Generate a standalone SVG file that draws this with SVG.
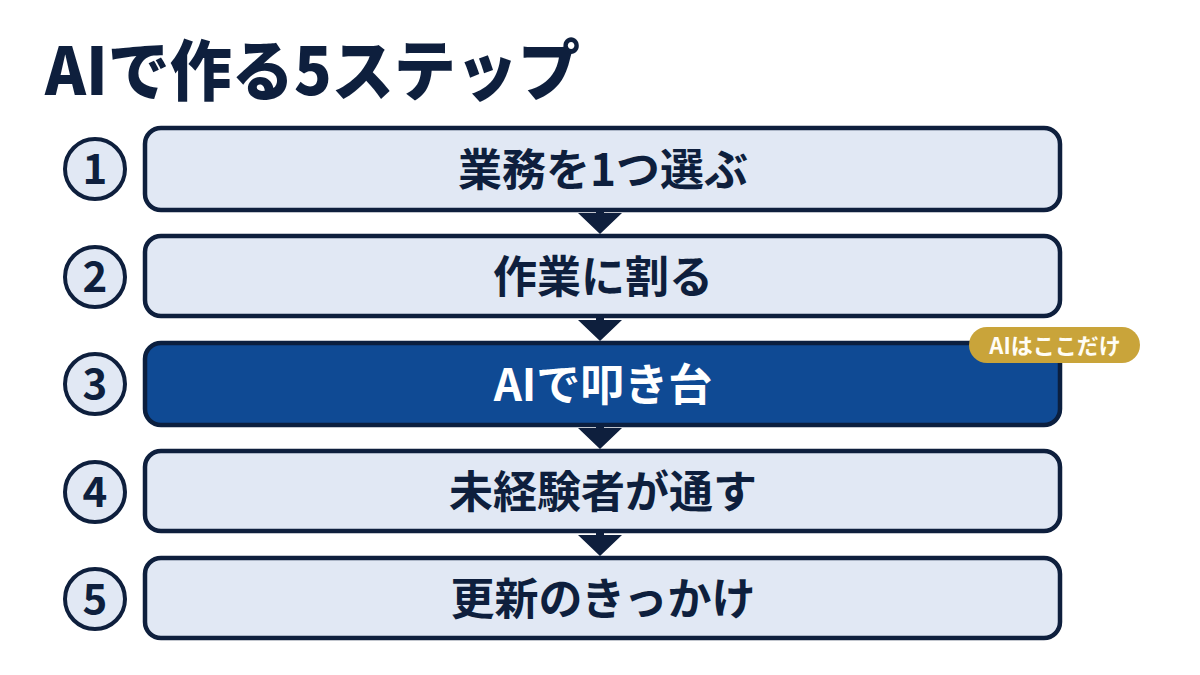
<svg xmlns="http://www.w3.org/2000/svg" width="1200" height="675" viewBox="0 0 1200 675">
<style>
text{font-family:"Noto Sans CJK JP","Noto Sans",sans-serif;font-weight:700;text-anchor:middle}
.box{fill:#E1E8F4;stroke:#0E1F3D;stroke-width:4.5}
.hl{fill:#0F4A94;stroke:#0B1F3F;stroke-width:4.5}
.num{fill:#E1E8F4;stroke:#0E1F3D;stroke-width:4}
.lbl{font-size:44px;fill:#0E1F3D}
.nt{font-size:42px;fill:#0E1F3D}
.arr{fill:#0E1F3D}
</style>
<rect width="1200" height="675" fill="#FFFFFF"/>
<text x="45" y="95" textLength="535" lengthAdjust="spacingAndGlyphs" style="font-size:66px;text-anchor:start;fill:#0E1F3D;font-weight:900">AIで作る5ステップ</text>
<g id="connectors">
<path class="arr" d="M596 210h8v3h18l-22 21l-22-21h18z"/>
<path class="arr" d="M596 316h8v4h18l-22 21l-22-21h18z"/>
<path class="arr" d="M596 425h8v3h18l-22 21l-22-21h18z"/>
<path class="arr" d="M596 531h8v4h18l-22 21l-22-21h18z"/>
</g>
<g id="step1">
<circle class="num" cx="95" cy="169" r="30"/><text class="nt" x="95" y="184">1</text>
<rect class="box" x="145" y="128" width="915" height="82" rx="16"/>
<text class="lbl" x="603" y="186">業務を1つ選ぶ</text>
</g>
<g id="step2">
<circle class="num" cx="95" cy="277" r="30"/><text class="nt" x="95" y="292">2</text>
<rect class="box" x="145" y="236" width="915" height="80" rx="16"/>
<text class="lbl" x="603" y="293">作業に割る</text>
</g>
<g id="step3">
<circle class="num" cx="95" cy="384" r="30"/><text class="nt" x="95" y="399">3</text>
<rect class="hl" x="145" y="343" width="915" height="82" rx="16"/>
<text class="lbl" x="603" y="401" style="fill:#FFFFFF">AIで叩き台</text>
</g>
<g id="badge">
<rect x="969" y="327" width="171" height="36" rx="18" fill="#C9A43A"/>
<text x="1055" y="354" style="font-size:22px;fill:#FFFDF5">AIはここだけ</text>
</g>
<g id="step4">
<circle class="num" cx="95" cy="492" r="30"/><text class="nt" x="95" y="507">4</text>
<rect class="box" x="145" y="451" width="915" height="80" rx="16"/>
<text class="lbl" x="603" y="508">未経験者が通す</text>
</g>
<g id="step5">
<circle class="num" cx="95" cy="599" r="30"/><text class="nt" x="95" y="614">5</text>
<rect class="box" x="145" y="558" width="915" height="80" rx="16"/>
<text class="lbl" x="603" y="615">更新のきっかけ</text>
</g>
</svg>
